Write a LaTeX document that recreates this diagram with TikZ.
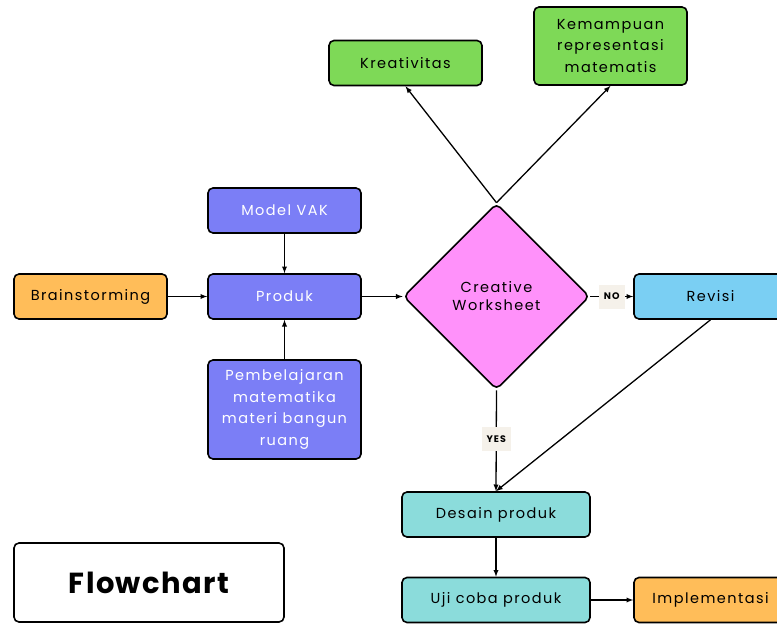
\documentclass[tikz,border=0pt]{standalone}
\usepackage{fontspec}
\setmainfont{Poppins}[LetterSpace=10]
\usetikzlibrary{shapes.geometric,arrows}

\definecolor{hijau}{HTML}{7ED957}
\definecolor{ungu}{HTML}{7B7EF6}
\definecolor{oranye}{HTML}{FFBD59}
\definecolor{merahmuda}{HTML}{FF91FA}
\definecolor{biru}{HTML}{7ACFF3}
\definecolor{toska}{HTML}{8BDCDB}
\definecolor{krem}{HTML}{F5F1EA}

\tikzset{
	kotak/.style={draw,line width=1.6pt,rounded corners=5pt,minimum width=153pt,minimum height=45pt,align=center,font=\fontsize{14.5}{21.5}\selectfont,inner sep=2pt},
	panah/.style={line width=1.3pt,-{latex}},
	label/.style={fill=krem,font=\fontsize{9.5}{10}\selectfont\bfseries,inner xsep=5pt,inner ysep=3pt,minimum height=24pt}
}

\begin{document}
\begin{tikzpicture}[x=1pt,y=-1pt]
	\useasboundingbox (0,0) rectangle (777,624) ;
	% hasil
	\node (kreatif) at (405.5,63) [kotak,fill=hijau] {Kreativitas} ;
	\node (kemampuan) at (610.5,46) [kotak,fill=hijau,minimum height=78pt] {Kemampuan\\representasi\\matematis} ;
	% masukan
	\node (vak) at (284.5,210.5) [kotak,fill=ungu,text=white] {Model VAK} ;
	\node (brain) at (90.5,296.5) [kotak,fill=oranye] {Brainstorming} ;
	\node (produk) at (284.5,296.5) [kotak,fill=ungu,text=white] {Produk} ;
	\node (belajar) at (284.5,409.5) [kotak,fill=ungu,text=white,minimum height=99pt] {Pembelajaran\\matematika\\materi bangun\\ruang} ;
	% keputusan
	\node (cw) at (496.5,296.5) [diamond,draw,line width=1.6pt,rounded corners=5pt,fill=merahmuda,minimum width=186pt,minimum height=186pt,align=center,inner sep=0pt,font=\fontsize{14.5}{18}\selectfont] {Creative\\Worksheet} ;
	\node (revisi) at (710.5,296.5) [kotak,fill=biru] {Revisi} ;
	\node (desain) at (496,514.5) [kotak,fill=toska,minimum width=188pt] {Desain produk} ;
	\node (uji) at (496,600) [kotak,fill=toska,minimum width=188pt] {Uji coba produk} ;
	\node (impl) at (710.5,600) [kotak,fill=oranye] {Implementasi} ;
	\node (judul) at (149,582.5) [kotak,minimum width=270pt,minimum height=79pt,font=\fontsize{29}{32}\selectfont\bfseries\addfontfeatures{LetterSpace=5}] {Flowchart} ;
	% panah
	\draw [panah] (vak) -- (produk) ;
	\draw [panah] (brain) -- (produk) ;
	\draw [panah] (belajar) -- (produk) ;
	\draw [panah] (produk) -- (cw) ;
	\draw [panah] (cw.north) -- (kreatif.south) ;
	\draw [panah] (cw.north) -- (kemampuan.south) ;
	\draw [panah] (cw) -- node [label] {NO} (revisi) ;
	\draw [panah] (cw.south) -- node [label,pos=0.48] {YES} (desain.north) ;
	\draw [panah] (revisi.south) -- (desain.north) ;
	\draw [panah] (desain) -- (uji) ;
	\draw [panah] (uji) -- (impl) ;
\end{tikzpicture}
\end{document}
